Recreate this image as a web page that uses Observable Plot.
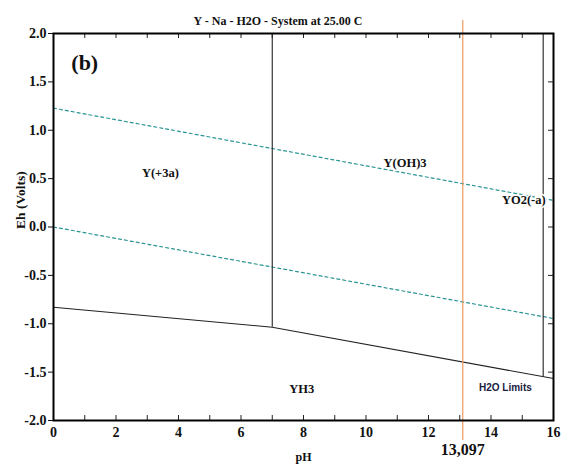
<!DOCTYPE html>
<html>
<head>
<meta charset="utf-8">
<script src="https://cdn.jsdelivr.net/npm/d3@7"></script>
<script src="https://cdn.jsdelivr.net/npm/@observablehq/plot@0.6"></script>
<style>
  html, body { margin: 0; padding: 0; background: #fff; }
</style>
</head>
<body>
<div id="chart"></div>
<script>
// ---- data ----
const title = "Y - Na - H2O - System at 25.00 C";
const xLabel = "pH";
const yLabel = "Eh (Volts)";
const xTickLabels = [0, 2, 4, 6, 8, 10, 12, 14, 16];
const xMinorTicks = [0, 1, 2, 3, 4, 5, 6, 7, 8, 9, 10, 11, 12, 13, 14, 15, 16];
const yTickLabels = [2.0, 1.5, 1.0, 0.5, 0.0, -0.5, -1.0, -1.5, -2.0];

// water stability limits (dashed)
const upperWaterPH = [0, 16];
const upperWaterEh = [1.228, 0.275];
const lowerWaterPH = [0, 16];
const lowerWaterEh = [0.0, -0.946];

// Y(+3a)/Y(OH)3 - YH3 boundary (solid)
const boundaryPH = [0, 7, 16];
const boundaryEh = [-0.83, -1.036, -1.566];

// vertical boundaries
const verticalPH = [7.0, 15.67];
const verticalLowEh = [-1.036, -1.547];
const verticalHighEh = [2.0, 2.0];

// field labels
const fieldNames = ["Y(+3a)", "Y(OH)3", "YO2(-a)", "YH3"];
const fieldPH = [3.42, 11.25, 15.05, 7.94];
const fieldEh = [0.553, 0.66, 0.275, -1.67];

const markerPH = 13.097;
const markerLabel = "13,097";

// ---- tables built from arrays ----
const upper = upperWaterPH.map((x, i) => ({x, y: upperWaterEh[i]}));
const lower = lowerWaterPH.map((x, i) => ({x, y: lowerWaterEh[i]}));
const boundary = boundaryPH.map((x, i) => ({x, y: boundaryEh[i]}));
const verticals = verticalPH.map((x, i) => ({x, y1: verticalLowEh[i], y2: verticalHighEh[i]}));
const fields = fieldNames.map((name, i) => ({name, x: fieldPH[i], y: fieldEh[i]}));

const teal = "#2a9494";
const serif = "'Liberation Serif', 'DejaVu Serif', serif";

const chart = Plot.plot({
  width: 565,
  height: 465,
  marginLeft: 53,
  marginRight: 12,
  marginTop: 33,
  marginBottom: 45,
  style: {fontFamily: serif, fontWeight: "bold", fontSize: "14px", color: "#111", background: "#fff"},
  x: {domain: [0, 16]},
  y: {domain: [-2, 2]},
  marks: [
    // water lines
    Plot.line(upper, {x: "x", y: "y", stroke: teal, strokeWidth: 1.2, strokeDasharray: "3,3"}),
    Plot.line(lower, {x: "x", y: "y", stroke: teal, strokeWidth: 1.2, strokeDasharray: "3,3"}),
    // boundaries
    Plot.line(boundary, {x: "x", y: "y", stroke: "#222", strokeWidth: 1.1}),
    Plot.ruleX(verticals, {x: "x", y1: "y1", y2: "y2", stroke: "#222", strokeWidth: 1.1}),
    // orange marker line extending beyond frame
    Plot.ruleX([markerPH], {x: d => d, y1: -2.207, y2: 2.134, stroke: "#ef9a62", strokeWidth: 1.2}),
    // inward minor ticks top / bottom / right
    Plot.tickX(xMinorTicks, {x: d => d, insetBottom: 382, stroke: "#222"}),
    Plot.tickX(xMinorTicks, {x: d => d, insetTop: 382, stroke: "#222"}),
    Plot.tickY(yTickLabels, {y: d => d, insetLeft: 495, stroke: "#222"}),
    // axes
    Plot.axisX({ticks: xTickLabels, tickSize: 0, tickPadding: 7, label: null, fontSize: 14}),
    Plot.axisY({ticks: yTickLabels, tickSize: 5, tickPadding: 2, label: null, fontSize: 14,
                tickFormat: d => d.toFixed(1)}),
    Plot.frame({stroke: "#000", strokeWidth: 2}),
    // field labels
    Plot.text(fields, {x: "x", y: "y", text: "name", fontSize: 12.5, fill: "#111",
                       stroke: "#fff", strokeWidth: 3, paintOrder: "stroke"}),
    Plot.text(["H2O Limits"], {x: 14.46, y: -1.66, text: d => d, fontSize: 10,
                       fontFamily: "'Liberation Sans', Arial, sans-serif", fill: "#1a2040"}),
    Plot.text(["(b)"], {x: 1.0, y: 1.7, text: d => d, fontSize: 22, fill: "#111"}),
    // marker label
    Plot.text([markerLabel], {x: markerPH, frameAnchor: "bottom", dy: 34, text: d => d, fontSize: 16, fill: "#111"}),
    // axis titles and chart title
    Plot.text([xLabel], {frameAnchor: "bottom", dy: 40, text: d => d, fontSize: 12}),
    Plot.text([yLabel], {frameAnchor: "left", dx: -33, dy: 2, rotate: -90, text: d => d, fontSize: 13.5}),
    Plot.text([title], {frameAnchor: "top-left", textAnchor: "start", dx: 140, dy: -17, text: d => d, fontSize: 12})
  ]
});

document.getElementById("chart").appendChild(chart);
</script>
</body>
</html>
